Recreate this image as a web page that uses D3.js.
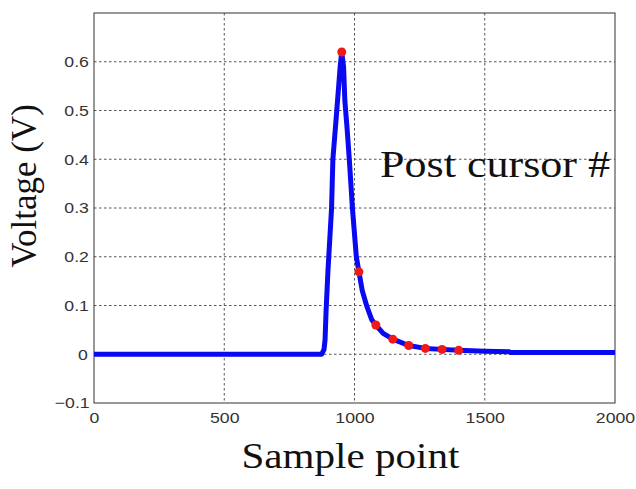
<!DOCTYPE html>
<html>
<head>
<meta charset="utf-8">
<script src="https://cdn.jsdelivr.net/npm/d3@7"></script>
<style>
  body { margin: 0; background: #fff; }
  .tick text { transform-box: fill-box; transform-origin: center; transform: scaleX(1.18); }
</style>
</head>
<body>
<div id="chart"></div>
<script>
// pulse response samples (sample index, volts)
const sampleX = [0, 874, 883, 887, 891, 898, 912, 917, 932, 945, 951, 958, 963, 972, 980, 992, 1007, 1017, 1030, 1047, 1066, 1082, 1110, 1147, 1208, 1272, 1336, 1400, 1500, 1595, 1600, 2000]
const voltage = [0, 0, 0.01, 0.03, 0.09, 0.17, 0.30, 0.40, 0.50, 0.59, 0.62, 0.59, 0.52, 0.46, 0.40, 0.30, 0.20, 0.169, 0.13, 0.099, 0.071, 0.060, 0.043, 0.031, 0.018, 0.012, 0.010, 0.008, 0.006, 0.005, 0.0035, 0.0035]

// main cursor + post cursor taps
const cursorX = [951, 1017, 1082, 1147, 1208, 1272, 1336, 1400]
const cursorV = [0.62, 0.169, 0.060, 0.031, 0.018, 0.012, 0.010, 0.008]

const xTicks = [0, 500, 1000, 1500, 2000]
const yTicks = [-0.1, 0, 0.1, 0.2, 0.3, 0.4, 0.5, 0.6]

var margin = { top: 13, right: 21, bottom: 86, left: 94 }
let width = 636 - margin.left - margin.right
let height = 489 - margin.top - margin.bottom

var svg = d3.select("#chart")
  .append("svg")
  .attr("width", 636)
  .attr("height", 489)
  .append("g")
  .attr("transform", "translate(" + margin.left + "," + margin.top + ")")

var x = d3.scaleLinear().domain([0, 2000]).range([0, width])
var y = d3.scaleLinear().domain([-0.1, 0.7]).range([height, 0])

// grid (dotted, matlab style)
svg.append("g")
  .selectAll("line")
  .data(xTicks.slice(1, -1))
  .enter().append("line")
  .attr("x1", d => x(d)).attr("x2", d => x(d))
  .attr("y1", 0).attr("y2", height)
  .attr("stroke", "#555").attr("stroke-width", 1)
  .attr("stroke-dasharray", "2.5,2.5")

svg.append("g")
  .selectAll("line")
  .data(yTicks.slice(1))
  .enter().append("line")
  .attr("x1", 0).attr("x2", width)
  .attr("y1", d => y(d)).attr("y2", d => y(d))
  .attr("stroke", "#555").attr("stroke-width", 1)
  .attr("stroke-dasharray", "2.5,2.5")

// axes
const xAxis = svg.append("g")
  .attr("transform", "translate(0," + height + ")")
  .call(d3.axisBottom(x).tickValues(xTicks).tickSize(0).tickPadding(9).tickFormat(d3.format("d")))
const yAxis = svg.append("g")
  .call(d3.axisLeft(y).tickValues(yTicks).tickSize(0).tickPadding(7).tickFormat(d => d === 0 ? "0" : d3.format(".1f")(d)))

;[xAxis, yAxis].forEach(a => {
  a.select(".domain").remove()
  a.selectAll("text")
    .attr("font-family", "Liberation Sans, Arial, sans-serif")
    .attr("font-size", "15px")
    .attr("fill", "#333")
})

// frame
svg.append("rect")
  .attr("width", width).attr("height", height)
  .attr("fill", "none").attr("stroke", "#333").attr("stroke-width", 1)

// response curve
const pts = sampleX.map((s, i) => [s, voltage[i]])
svg.append("path")
  .datum(pts)
  .attr("fill", "none")
  .attr("stroke", "#0a0af0")
  .attr("stroke-width", 5)
  .attr("stroke-linejoin", "round")
  .attr("d", d3.line().x(d => x(d[0])).y(d => y(d[1])))

// cursor dots
svg.selectAll(".dot")
  .data(cursorX)
  .enter().append("circle")
  .attr("class", "dot")
  .attr("cx", d => x(d))
  .attr("cy", (d, i) => y(cursorV[i]))
  .attr("r", 4.5)
  .attr("fill", "#f01818")

// labels
svg.append("text")
  .attr("x", 286).attr("y", 164)
  .attr("font-family", "Liberation Serif, Times New Roman, serif")
  .attr("font-size", "38px")
  .attr("textLength", 230).attr("lengthAdjust", "spacingAndGlyphs")
  .attr("fill", "#111")
  .text("Post cursor #")

svg.append("text")
  .attr("x", width / 2 - 4).attr("y", 455)
  .attr("text-anchor", "middle")
  .attr("font-family", "Liberation Serif, Times New Roman, serif")
  .attr("font-size", "36px")
  .attr("textLength", 218).attr("lengthAdjust", "spacingAndGlyphs")
  .attr("fill", "#111")
  .text("Sample point")

svg.append("text")
  .attr("transform", "translate(" + (-58) + "," + 173 + ") rotate(-90)")
  .attr("text-anchor", "middle")
  .attr("font-family", "Liberation Serif, Times New Roman, serif")
  .attr("font-size", "35px")
  .attr("fill", "#111")
  .text("Voltage (V)")
</script>
</body>
</html>
